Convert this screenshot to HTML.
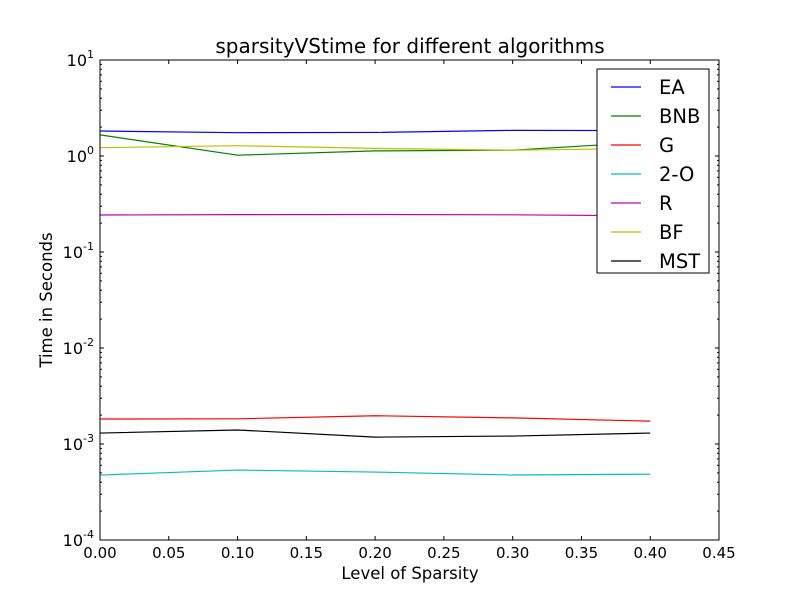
<!DOCTYPE html>
<html><head><meta charset="utf-8"><style>
body{margin:0;background:#fff;}
svg text{font-family:"DejaVu Sans","Liberation Sans",sans-serif;}
</style></head><body>
<svg id="chart" width="800" height="600" xmlns="http://www.w3.org/2000/svg">
<rect width="800" height="600" fill="#fff"/>
<g id="plot"></g>
</svg>
<script>
const xs=[0,0.1,0.2,0.3,0.4];
const seriesNames=["EA","BNB","G","2-O","R","BF","MST"];
const seriesColors=["#0000ff","#008000","#ff0000","#00bfbf","#bf00bf","#bfbf00","#000000"];
const eaVals=[1.82,1.75,1.76,1.85,1.84];
const bnbVals=[1.66,1.02,1.13,1.15,1.4];
const gVals=[1.82e-3,1.83e-3,1.97e-3,1.87e-3,1.73e-3];
const twoOVals=[4.75e-4,5.35e-4,5.1e-4,4.75e-4,4.85e-4];
const rVals=[0.243,0.245,0.246,0.244,0.238];
const bfVals=[1.22,1.28,1.2,1.15,1.2];
const mstVals=[1.30e-3,1.40e-3,1.18e-3,1.21e-3,1.30e-3];
const xTicks=["0.00","0.05","0.10","0.15","0.20","0.25","0.30","0.35","0.40","0.45"];
const yExps=[-4,-3,-2,-1,0,1];
const allVals=[eaVals,bnbVals,gVals,twoOVals,rVals,bfVals,mstVals];
const L=100,R=719,T=60,B=540;
const sx=v=>L+v/0.45*(R-L);
const sy=v=>B-(Math.log10(v)+4)*(B-T)/5;
const NS="http://www.w3.org/2000/svg";
const g=document.getElementById('plot');
function mk(tag,attrs,parent){const e=document.createElementNS(NS,tag);for(const k in attrs)e.setAttribute(k,attrs[k]);(parent||g).appendChild(e);return e;}
allVals.forEach((vals,i)=>{
 const p=mk('polyline',{points:vals.map((v,j)=>sx(xs[j])+','+sy(v)).join(' '),fill:'none',stroke:seriesColors[i],'stroke-width':1.2});
 
 
});
const fr=mk('rect',{x:L,y:T,width:R-L,height:B-T,fill:'none',stroke:'#000','stroke-width':1});


xTicks.forEach(t=>{
 const x=sx(parseFloat(t));
 mk('line',{x1:x,x2:x,y1:B,y2:B-4,stroke:'#000'});
 mk('line',{x1:x,x2:x,y1:T,y2:T+4,stroke:'#000'});
 const tx=mk('text',{x:x,y:B+18,'text-anchor':'middle','font-size':15});
 tx.textContent=t;
 
 
});
yExps.forEach(e=>{
 const y=sy(Math.pow(10,e));
 mk('line',{x1:L,x2:L+4,y1:y,y2:y,stroke:'#000'});
 mk('line',{x1:R,x2:R-4,y1:y,y2:y,stroke:'#000'});
 const tx=mk('text',{x:L-6,y:y+6,'text-anchor':'end','font-size':16});
 tx.innerHTML='10<tspan dy="-8" font-size="11">'+e+'</tspan>';
 
 
 if(e<1)for(let m=2;m<10;m++){const ym=sy(m*Math.pow(10,e));
  mk('line',{x1:L,x2:L+2,y1:ym,y2:ym,stroke:'#000'});
  mk('line',{x1:R,x2:R-2,y1:ym,y2:ym,stroke:'#000'});}
});
const title=mk('text',{x:410,y:53,'text-anchor':'middle','font-size':20});
title.textContent='sparsityVStime for different algorithms';


const xl=mk('text',{x:410,y:579,'text-anchor':'middle','font-size':16.5});
xl.textContent='Level of Sparsity';


const yl=mk('text',{x:52,y:300,'text-anchor':'middle','font-size':16.5,transform:'rotate(-90 52 300)'});
yl.textContent='Time in Seconds';


const lg=mk('g',{});


mk('rect',{x:597,y:69,width:112,height:204,fill:'#fff',stroke:'#000'},lg);
seriesNames.forEach((n,i)=>{
 const y=87+i*29;
 const e=mk('g',{},lg);
 
 
 mk('line',{x1:611,x2:641,y1:y,y2:y,stroke:seriesColors[i],'stroke-width':1.2},e);
 const t=mk('text',{x:659,y:y+7,'font-size':19.5},e);
 t.textContent=n;
});
</script>
</body></html>
